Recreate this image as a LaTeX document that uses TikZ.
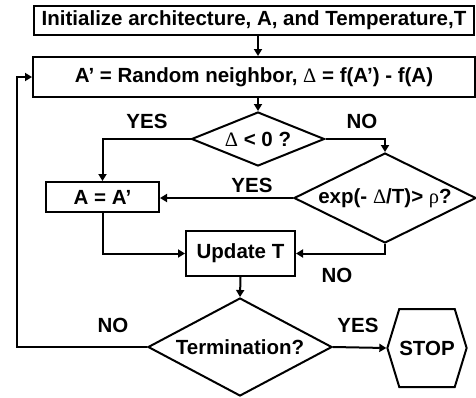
\documentclass[tikz,border=0pt]{standalone}
\usepackage{fontspec}
\setmainfont{Liberation Sans}
\newfontfamily\greek{Liberation Serif}
\newcommand{\Dl}{{\greek\mdseries Δ}}
\usetikzlibrary{arrows.meta,calc,shapes.geometric,shapes.symbols}

\begin{document}
\begin{tikzpicture}[x=1pt,y=-1pt,
  every node/.style={font=\fontsize{20.5}{22}\selectfont\bfseries},
  box/.style={draw,line width=2pt,inner sep=0pt},
  test/.style={diamond,draw,line width=2pt,inner sep=0pt},
  stopbox/.style={signal,signal to=west and east,signal pointer angle=146,
    draw,line width=2pt,inner sep=0pt},
  flow/.style={line width=2pt,-{Triangle[length=7pt,width=8pt]}}]
\useasboundingbox (0,0) rectangle (476,397);

\node[box,minimum width=440pt,minimum height=29pt] (init) at (254,20.5)
  {Initialize architecture, A, and Temperature,T};
\node[box,minimum width=442pt,minimum height=40pt] (nbr) at (254,77)
  {A’ = Random neighbor, \Dl\ = f(A’) - f(A)};

\node[test,aspect=2.46,minimum width=133pt,minimum height=54pt] (delta) at (258,139)
  {\Dl\ < 0 ?};
\node[test,aspect=2.02,inner xsep=-8pt,minimum width=182pt,minimum height=90pt]
  (accept) at (385,198) {exp(- \Dl/T)> {\greek\mdseries ρ}?};
\node[box,minimum width=113pt,minimum height=30pt] (anew) at (102.5,197) {A = A’};
\node[box,minimum width=109pt,minimum height=45pt] (upd) at (240.5,253.5) {Update T};
\node[test,aspect=1.88,minimum width=184pt,minimum height=98pt] (term) at (240,347)
  {Termination?};
\node[stopbox,minimum width=74pt,minimum height=78pt] (stop) at (427,348) {STOP};

\coordinate (back) at (17,347);

\draw[flow] (init.south -| delta.north) -- (nbr.north -| delta.north);
\draw[flow] (nbr.south -| delta.north) -- (delta.north);
\draw[flow] (delta.west) -| (anew.north);
\draw[flow] (delta.east) -| (accept.north);
\draw[flow] (accept.west) -- (accept.west -| anew.east);
\draw[flow] (anew.south) |- (upd.west);
\draw[flow] (accept.south) |- (upd.east);
\draw[flow] (upd.south) -- (term.north);
\draw[flow] (term.west) -- (back) |- (nbr.west);
\draw[flow] (term.east) -- (stop.west);

\node (yes1) at (147,121) {YES};
\node (no1) at (362,121) {NO};
\node (yes2) at (252,185) {YES};
\node (no2) at (337,275) {NO};
\node (no3) at (113,325) {NO};
\node (yes3) at (358,325) {YES};

\end{tikzpicture}
\end{document}
